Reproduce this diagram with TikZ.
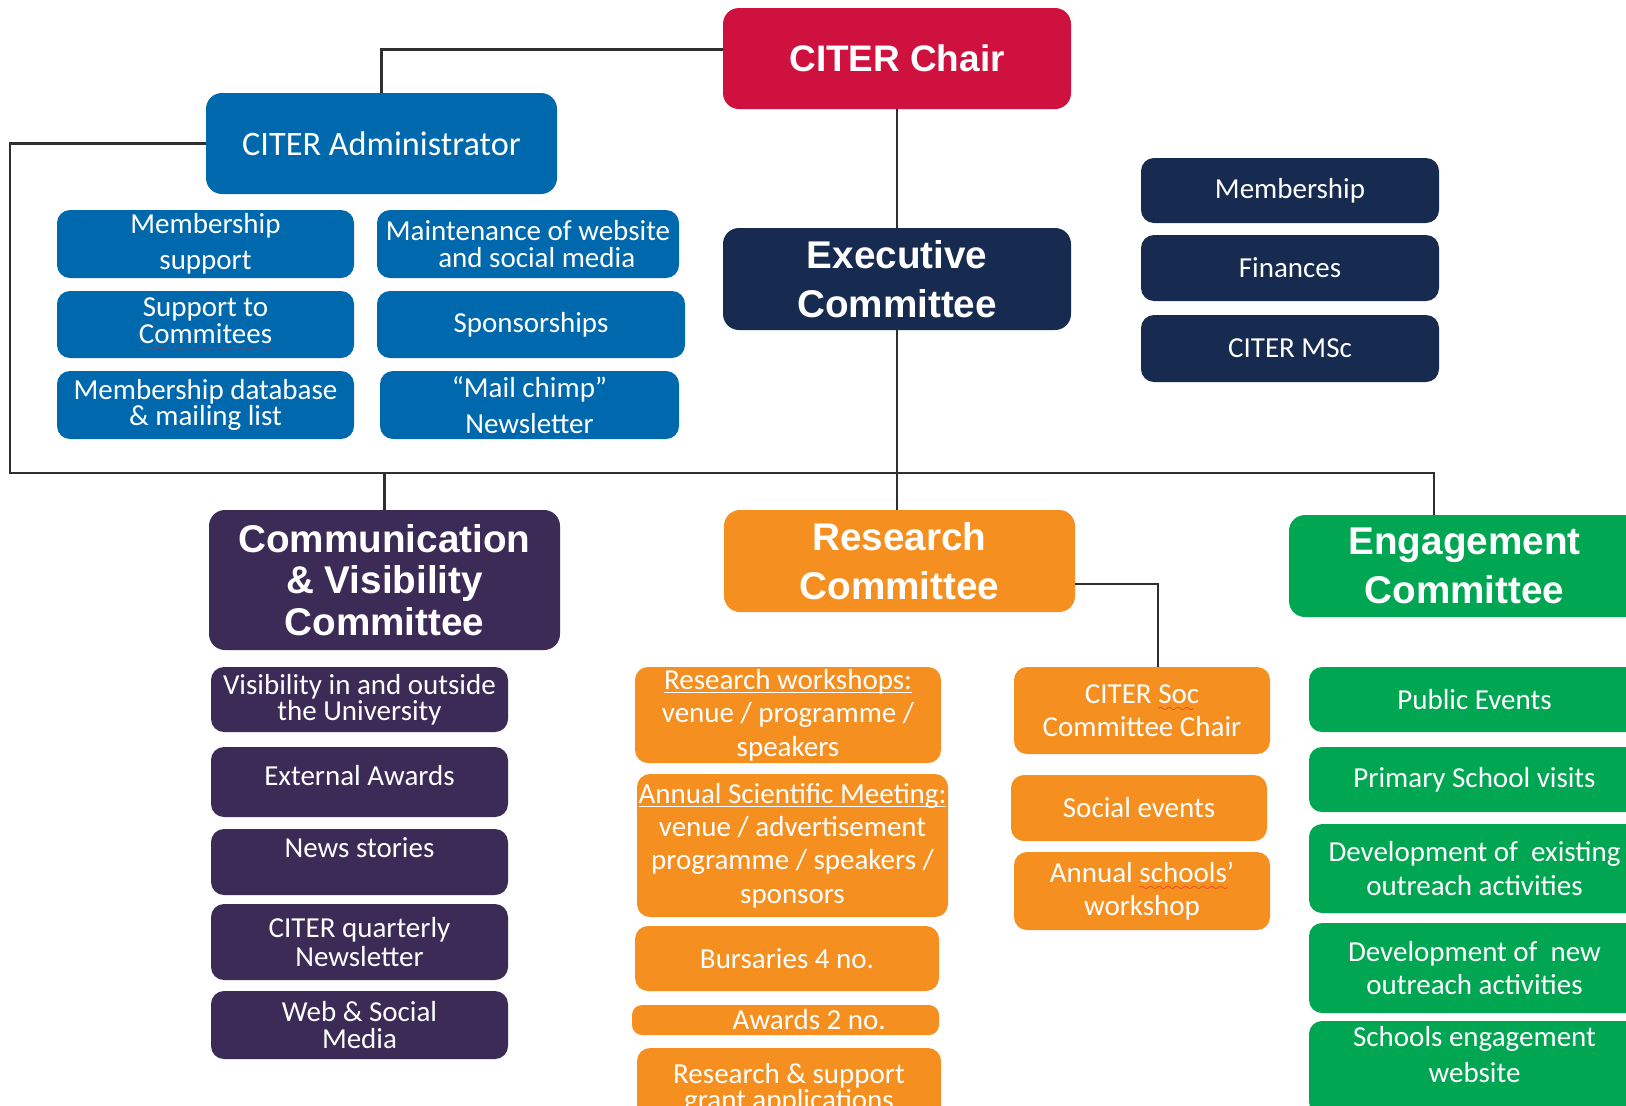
\documentclass[tikz,border=0pt]{standalone}
\usepackage{fontspec}
\usepackage{tikz}
\usepackage{xcolor}
\setmainfont{Carlito}
\newfontfamily\headfont{Liberation Sans}
\font\sqfont=lasy6
\newcommand\spellmark[1]{\setbox0\hbox{#1}\rlap{\textcolor{squiggle}{\lower4.5pt\hbox to\wd0{\leaders\hbox{\sqfont\char58}\hfill}}}\box0}
\newcommand\topicline[1]{\setbox0\hbox{#1}\rlap{\rule[-2pt]{\wd0}{0.6pt}}\box0}
\definecolor{chairred}{HTML}{CF1140}
\definecolor{adminblue}{HTML}{0069AD}
\definecolor{execnavy}{HTML}{172A4F}
\definecolor{commpurple}{HTML}{3C2A57}
\definecolor{resorange}{HTML}{F58F20}
\definecolor{enggreen}{HTML}{00A651}
\definecolor{wire}{HTML}{2F2F2F}
\definecolor{squiggle}{HTML}{E02828}
\tikzset{
	box/.style={rounded corners=2.6mm, text=white, align=center, inner sep=0pt, font=\fontsize{16.5}{19}\selectfont},
	tight/.style={font=\fontsize{16.5}{15}\selectfont},
	loose/.style={font=\fontsize{16.5}{20.5}\selectfont},
	head/.style={box, rounded corners=3.2mm, font=\headfont\bfseries\fontsize{22}{28}\selectfont},
	wh/.style 2 args={minimum width=#1*0.2mm, minimum height=#2*0.2mm},
	link/.style={draw=wire, line width=1.3pt}
}

\begin{document}
\begin{tikzpicture}[x=0.2mm,y=-0.2mm]
		\clip (0,0) rectangle (1626,1105);
		\fill[white] (0,0) rectangle (1626,1105);
		\node[head, fill=chairred, wh={348}{101}, font=\headfont\bfseries\fontsize{21}{26}\selectfont] (chair) at (897,58.5) {CITER Chair};
		\node[box, fill=adminblue, wh={351}{101}, rounded corners=3.2mm, font=\fontsize{19.5}{23}\selectfont] (admin) at (381.5,143.5) {CITER Administrator};
		\node[head, fill=execnavy, wh={348}{102}] (exec) at (897,279) {Executive\\Committee};
		\node[box, fill=execnavy, wh={298}{65}] (memb) at (1290,190.5) {Membership};
		\node[box, fill=execnavy, wh={298}{66}] (fin) at (1290,268) {Finances};
		\node[box, fill=execnavy, wh={298}{67}] (msc) at (1290,348.5) {CITER MSc};
		\node[box, loose, fill=adminblue, wh={297}{68}] (msup) at (205.5,244) {Membership\\support};
		\node[box, tight, fill=adminblue, wh={297}{67}] (scom) at (205.5,324.5) {Support to\\\spellmark{Commitees}};
		\node[box, tight, fill=adminblue, wh={297}{68}] (mdb) at (205.5,405) {Membership database\\\& mailing list};
		\node[box, tight, fill=adminblue, wh={302}{68}] (maint) at (528,244) {Maintenance of website\\\hspace*{10pt}and social media};
		\node[box, fill=adminblue, wh={308}{67}] (spons) at (531,324.5) {Sponsorships};
		\node[box, loose, fill=adminblue, wh={299}{68}] (chimp) at (529.5,405) {“Mail chimp”\\Newsletter};
		\node[head, fill=commpurple, wh={351}{140}, font=\headfont\bfseries\fontsize{22}{23.5}\selectfont] (comm) at (384.5,580) {Communication\\\& Visibility\\Committee};
		\node[box, tight, fill=commpurple, wh={297}{65}] (vis) at (359.5,699.5) {Visibility in and outside\\the University};
		\node[box, fill=commpurple, wh={297}{70}, text depth=8pt] (ext) at (359.5,782) {External Awards};
		\node[box, fill=commpurple, wh={297}{66}, text depth=17pt] (news) at (359.5,862) {News stories};
		\node[box, fill=commpurple, wh={297}{76}, font=\fontsize{16.5}{17}\selectfont] (quart) at (359.5,942) {CITER quarterly\\Newsletter};
		\node[box, tight, fill=commpurple, wh={297}{68}] (web) at (359.5,1025) {Web \& Social\\Media};
		\node[head, fill=resorange, wh={351}{102}] (research) at (899.5,561) {Research\\Committee};
		\node[box, fill=resorange, wh={306}{96}] (rws) at (788,715) {\topicline{Research workshops:}\\venue / programme /\\speakers};
		\node[box, fill=resorange, wh={311}{143}] (asm) at (792.5,845.5) {\topicline{Annual Scientific Meeting:}\\venue / advertisement\\programme / speakers /\\sponsors};
		\node[box, fill=resorange, wh={304}{65}] (burs) at (787,958.5) {Bursaries 4 no.};
		\node[box, fill=resorange, wh={307}{30}, rounded corners=2mm] (awards) at (785.5,1020) {\hspace*{27pt}Awards 2 no.};
		\node[box, tight, fill=resorange, wh={304}{82}] (grant) at (789,1089) {Research \& support\\grant applications};
		\node[box, fill=resorange, wh={256}{87}] (soc) at (1142,710.5) {CITER \spellmark{Soc}\\Committee Chair};
		\node[box, fill=resorange, wh={256}{66}] (sevt) at (1139,808) {Social events};
		\node[box, fill=resorange, wh={256}{78}] (aschool) at (1142,891) {Annual \spellmark{schools’}\\workshop};
		\node[head, fill=enggreen, wh={351}{102}] (eng) at (1464.5,566) {Engagement\\Committee};
		\node[box, fill=enggreen, wh={331}{65}] (pub) at (1474.5,699.5) {Public Events};
		\node[box, fill=enggreen, wh={331}{65}] (prim) at (1474.5,779.5) {Primary School visits};
		\node[box, fill=enggreen, wh={331}{89}] (dexist) at (1474.5,868.5) {Development of\ \ existing\\outreach activities};
		\node[box, fill=enggreen, wh={331}{90}] (dnew) at (1474.5,968) {Development of\ \ new\\outreach activities};
		\node[box, loose, fill=enggreen, wh={331}{94}, text depth=15pt] (sweb) at (1474.5,1068) {Schools engagement\\website};
		\coordinate (busL) at (10,473);
		\coordinate (busR) at (1434,473);
		\draw[link] (admin.north) |- ([yshift=1.8mm]chair.west);
		\draw[link] (chair) -- (exec);
		\draw[link] (exec.south) -- (exec.south |- research.north);
		\draw[link] (admin.west) -| (busL) -- (busR) -- (busR |- eng.north);
		\draw[link] (comm.north) -- (comm.north |- busL);
		\draw[link] ([yshift=-4.6mm]research.east) -| ([xshift=3.2mm]soc.north);
	\end{tikzpicture}
\end{document}
